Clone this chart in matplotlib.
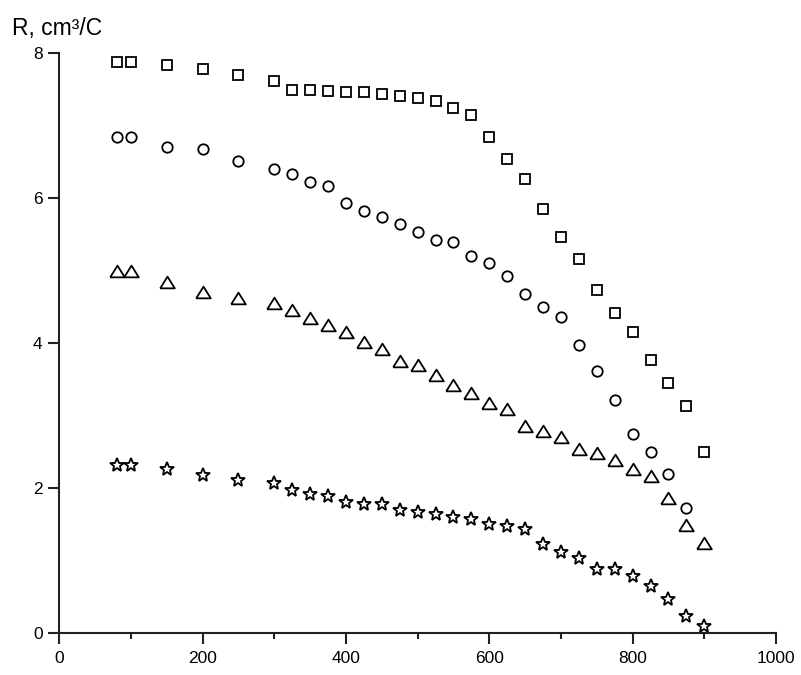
import matplotlib
matplotlib.use("Agg")
import matplotlib.pyplot as plt
import numpy as np

plt.rcParams['font.family'] = ['Liberation Sans', 'DejaVu Sans']

x = [80, 100, 150, 200, 250, 300, 325, 350, 375, 400, 425, 450, 475, 500, 525,
     550, 575, 600, 625, 650, 675, 700, 725, 750, 775, 800, 825, 850, 875, 900]

r_square = [7.88, 7.88, 7.84, 7.78, 7.70, 7.62, 7.50, 7.50, 7.48, 7.47, 7.46, 7.44, 7.41, 7.38, 7.34,
            7.24, 7.15, 6.85, 6.54, 6.26, 5.85, 5.46, 5.16, 4.74, 4.41, 4.16, 3.77, 3.45, 3.13, 2.50]
r_circle = [6.85, 6.85, 6.71, 6.68, 6.51, 6.41, 6.33, 6.23, 6.17, 5.94, 5.83, 5.745, 5.65, 5.54, 5.43,
            5.39, 5.20, 5.11, 4.93, 4.68, 4.50, 4.36, 3.97, 3.62, 3.21, 2.75, 2.50, 2.20, 1.72]
x_circle = x[:-1]
r_triangle = [4.99, 4.99, 4.84, 4.71, 4.63, 4.55, 4.46, 4.35, 4.25, 4.16, 4.02, 3.92, 3.75, 3.70, 3.555,
              3.42, 3.31, 3.17, 3.09, 2.86, 2.79, 2.70, 2.535, 2.48, 2.39, 2.26, 2.16, 1.87, 1.49, 1.24]
r_star = [2.32, 2.32, 2.26, 2.18, 2.11, 2.07, 1.98, 1.92, 1.89, 1.81, 1.78, 1.78, 1.70, 1.67, 1.645,
          1.605, 1.58, 1.51, 1.48, 1.44, 1.23, 1.12, 1.03, 0.89, 0.88, 0.78, 0.65, 0.465, 0.24, 0.10]

x_ticks = [0, 200, 400, 600, 800, 1000]
y_ticks = [0, 2, 4, 6, 8]
y_label = "R, cm³/C"

fig = plt.figure(figsize=(8.01, 6.75), dpi=100)
ax = fig.add_axes([0.0740, 0.0622, 0.8948, 0.8588])

tri = [(-1.0, -0.8), (1.0, -0.8), (0.0, 0.8), (-1.0, -0.8)]

common = dict(linestyle='none', markerfacecolor='white', markeredgecolor='black',
              markeredgewidth=1.3, clip_on=False)
ax.plot(x, r_square, marker='s', markersize=7, **common)
ax.plot(x_circle, r_circle, marker='o', markersize=7.5, **common)
ax.plot(x, r_triangle, marker=tri, markersize=10.5, **common)
ax.plot(x, r_star, marker='*', markersize=10, **common)

ax.set_xlim(0, 1000)
ax.set_ylim(0, 8)
ax.set_xticks(x_ticks)
ax.set_xticks([100, 300, 500, 700, 900], minor=True)
ax.set_yticks(y_ticks)
ax.set_xticklabels([str(v) for v in x_ticks])
ax.set_yticklabels([str(v) for v in y_ticks])

for s in ['top', 'right']:
    ax.spines[s].set_visible(False)
for s in ['left', 'bottom']:
    ax.spines[s].set_linewidth(1.5)
    ax.spines[s].set_color('#222222')

ax.tick_params(axis='both', which='major', direction='out', length=8, width=1.5,
               labelsize=12.5, color='#222222')
ax.tick_params(axis='x', which='minor', direction='out', length=4, width=1.5, color='#222222')
ax.tick_params(axis='x', which='major', pad=5)
ax.tick_params(axis='y', which='major', pad=4)

fig.text(12 / 801, 1 - 35 / 675, y_label, fontsize=16.5, ha='left', va='baseline')

fig.savefig("out.png", dpi=100)
